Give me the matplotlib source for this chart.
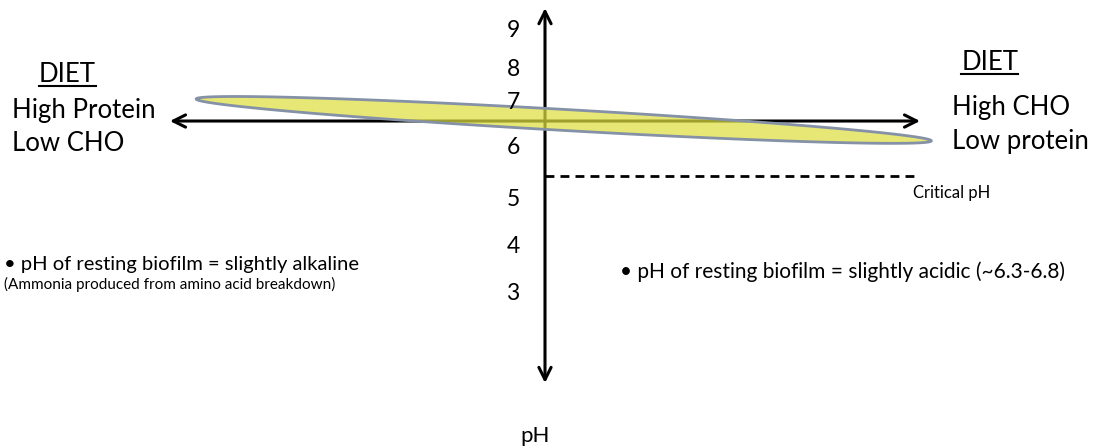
import numpy as np
import matplotlib
matplotlib.use("Agg")
import matplotlib.pyplot as plt
from matplotlib.patches import Polygon

plt.rcParams['font.family'] = ['Lato', 'DejaVu Sans']

# values
ph_ticks = [3, 4, 5, 6, 7, 8, 9]
critical_ph = 5.55
axis_ph = 6.8             # level of the horizontal diet arrow
biofilm_left_ph = 7.3     # high protein / low CHO end
biofilm_right_ph = 6.35   # high CHO / low protein end
left_diet = ["High Protein", "Low CHO"]
right_diet = ["High CHO", "Low protein"]
left_note = "\u2022 pH of resting biofilm = slightly alkaline"
left_sub = "(Ammonia produced from amino acid breakdown)"
right_note = "\u2022 pH of resting biofilm = slightly acidic (~6.3-6.8)"

# small vertical nudges of the hand-placed tick labels (layout only)
tick_nudge = {3: -0.1, 4: -0.05, 5: 0.01, 6: 0.19, 7: 0.21, 8: -0.04, 9: -0.14}

fig = plt.figure(figsize=(10.99, 4.48), dpi=100)
ax = fig.add_axes([0, 0, 1, 1])
ax.set_xlim(-1.453, 1.477)
ax.set_ylim(-0.614, 9.544)
ax.axis('off')

arrow = dict(arrowstyle='<->', color='black', lw=2.2, mutation_scale=22,
             shrinkA=0, shrinkB=0)
# vertical pH axis
ax.annotate('', xy=(0, 9.36), xytext=(0, 0.86), arrowprops=arrow)
# horizontal diet axis
ax.annotate('', xy=(-1.0, axis_ph), xytext=(1.0, axis_ph), arrowprops=arrow)

# biofilm ellipse, built in pixel space then mapped back to data
fig.canvas.draw()
p1 = ax.transData.transform((-0.93, biofilm_left_ph))
p2 = ax.transData.transform((1.03, biofilm_right_ph))
c = (p1 + p2) / 2
d = p2 - p1
a = np.hypot(*d) / 2
u = d / np.hypot(*d)
v = np.array([-u[1], u[0]])
b = 10.5
t = np.linspace(0, 2 * np.pi, 300)
pts = c + np.outer(a * np.cos(t), u) + np.outer(b * np.sin(t), v)
pts = ax.transData.inverted().transform(pts)
ax.add_patch(Polygon(pts, closed=True, facecolor=(0.87, 0.87, 0.25), alpha=0.72,
                     edgecolor='none', zorder=3))
ax.add_patch(Polygon(pts, closed=True, facecolor='none', edgecolor='#8591a6',
                     lw=2, zorder=4))

# critical pH
ax.plot([0.0, 1.0], [critical_ph, critical_ph], color='black', lw=2,
        linestyle=(0, (3.2, 2.2)))
ax.text(0.98, critical_ph - 0.38, "Critical pH", fontsize=12, ha='left', va='center')

# tick labels
for ph in ph_ticks:
    ax.text(-0.085, ph + tick_nudge[ph], str(ph), fontsize=16.5,
            ha='center', va='center', zorder=6)

ax.text(-0.027, -0.35, "pH", fontsize=16, ha='center', va='center')

# diet labels
def underlined(x, y, s, **kw):
    t = ax.text(x, y, s, **kw)
    fig.canvas.draw()
    bb = t.get_window_extent().transformed(ax.transData.inverted())
    ax.plot([bb.x0, bb.x1], [bb.y0 + 0.02, bb.y0 + 0.02], color='black', lw=1.5)

underlined(-1.35, 7.85, "DIET", fontsize=18.5, ha='left', va='center')
ax.text(-1.422, 7.03, left_diet[0], fontsize=18.5, ha='left', va='center')
ax.text(-1.422, 6.28, left_diet[1], fontsize=18.5, ha='left', va='center')

underlined(1.11, 8.12, "DIET", fontsize=18.5, ha='left', va='center')
ax.text(1.085, 7.1, right_diet[0], fontsize=18.5, ha='left', va='center')
ax.text(1.085, 6.33, right_diet[1], fontsize=18.5, ha='left', va='center')

# notes
ax.text(-1.442, 3.55, left_note, fontsize=14.5, ha='left', va='center')
ax.text(-1.442, 3.1, left_sub, fontsize=11, ha='left', va='center')
ax.text(0.2, 3.38, right_note, fontsize=15, ha='left', va='center')

fig.savefig('out.png', dpi=100)
